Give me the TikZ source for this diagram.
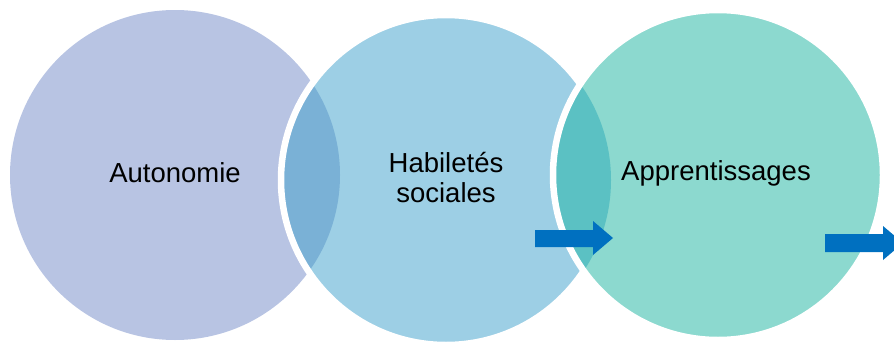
\documentclass[tikz,border=0pt]{standalone}
\usepackage{fontspec}
\setmainfont{Liberation Sans}
\definecolor{circA}{HTML}{B8C4E3}
\definecolor{circB}{HTML}{9DCFE5}
\definecolor{circC}{HTML}{8CD9CF}
\definecolor{lensAB}{HTML}{7AB1D6}
\definecolor{lensBC}{HTML}{5BC1C3}
\definecolor{arrowblue}{HTML}{0070C0}
\begin{document}
\begin{tikzpicture}[
        x = 1pt, y = -1pt,
        white rim/.style = {draw = white, line width = 6.5pt},
        label text/.style = {font = \fontsize{27.5}{30}\selectfont, align = center, text = black}
    ]
        \useasboundingbox (0,0) rectangle (894,343);
        \fill[circA] (175,175) circle (165);
        \fill[circB] (446,180) circle (165);
        \begin{scope}
            \clip (175,175) circle (165);
            \fill[lensAB] (446,180) circle (165);
        \end{scope}
        \draw[white rim] (446,180) circle (165);
        \fill[circC] (718,175) circle (165);
        \begin{scope}
            \clip (446,180) circle (165);
            \fill[lensBC] (718,175) circle (165);
        \end{scope}
        \draw[white rim] (718,175) circle (165);
        \node[label text] (autonomie) at (175,173) {Autonomie};
        \node[label text] (habiletes) at (446,178) {Habiletés\\sociales};
        \node[label text] (apprent) at (716,173) {Apprentissages};
        % arrows
        \fill[arrowblue] (535,230) -- (593,230) -- (593,221) -- (613,238) -- (593,255) -- (593,247) -- (535,247) -- cycle;
        \fill[arrowblue] (825,234) -- (883,234) -- (883,226) -- (903,243) -- (883,260) -- (883,252) -- (825,252) -- cycle;
\end{tikzpicture}
\end{document}
